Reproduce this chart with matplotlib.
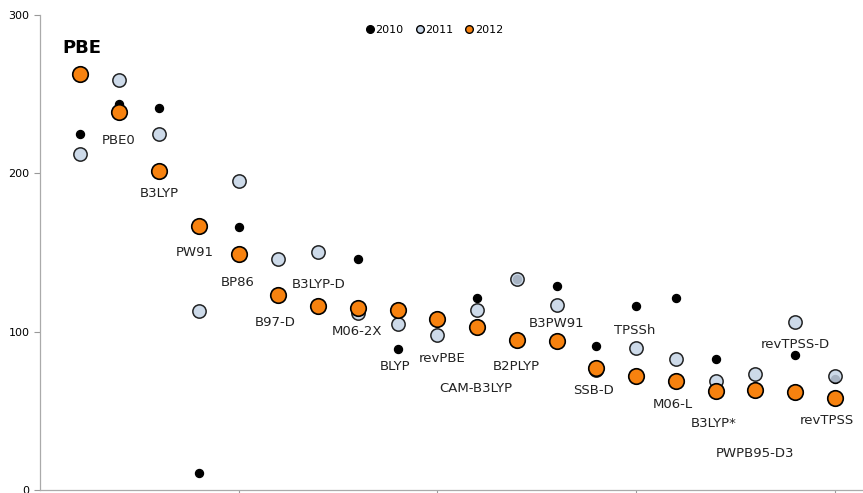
import numpy as np
import matplotlib
matplotlib.use("Agg")
import matplotlib.pyplot as plt
from matplotlib.lines import Line2D

methods = ["PBE", "PBE0", "B3LYP", "PW91", "BP86", "B97-D", "B3LYP-D", "M06-2X",
           "BLYP", "revPBE", "CAM-B3LYP", "B2PLYP", "B3PW91", "SSB-D", "TPSSh",
           "M06-L", "B3LYP*", "PWPB95-D3", "revTPSS-D", "revTPSS"]
nan = np.nan
y2010 = [225, 244, 241, 11, 166, nan, nan, 146, 89, nan, 121, 133, 129, 91, 116,
         121, 83, nan, 85, 70]
y2011 = [212, 259, 225, 113, 195, 146, 150, 112, 105, 98, 114, 133, 117, 76, 90,
         83, 69, 73, 106, 72]
y2012 = [263, 239, 201.5, 167, 149, 123, 116, 115, 114, 108, 103, 95, 94, 77, 72,
         69, 62.5, 63, 62, 58]
yticks = [0, 100, 200, 300]
years = ["2010", "2011", "2012"]

# label placement (x offset from category, y in data units)
label_dx = [0.05, -0.01, -0.01, -0.10, -0.02, -0.09, 0.02, -0.02, -0.07, 0.12,
            -0.03, -0.02, 0.01, -0.08, -0.03, -0.07, -0.06, -0.01, 0.0, -0.20]
label_y = [279, 221, 187, 150, 131, 106, 130, 100, 78, 83, 64, 78, 105, 63, 101,
           54, 42, 23, 92, 44]

W, H = 863, 493
fig = plt.figure(figsize=(W / 100, H / 100), dpi=100)
ax = fig.add_axes([40 / W, 3 / H, (W - 40) / W, (490 - 15) / H])

x = np.arange(1, len(methods) + 1)
ax.scatter(x, y2010, s=33, color="black", zorder=3)
ax.scatter(x, y2011, s=92, facecolor="#C5D4E6", edgecolor="black", linewidth=1.1,
           alpha=0.85, zorder=4)
ax.scatter(x, y2012, s=125, facecolor="#F7820F", edgecolor="black", linewidth=1.2,
           zorder=5)

for i, name in enumerate(methods):
    if name == "PBE":
        ax.text(x[i] + label_dx[i], label_y[i], name, ha="center", va="center",
                fontsize=13, fontweight="bold", color="black")
    else:
        ax.text(x[i] + label_dx[i], label_y[i], name, ha="center", va="center",
                fontsize=9.5, color="#222222")

ax.set_xlim(0, (W - 40) / 39.74)
ax.set_ylim(0, 300)
ax.set_xticks([5, 10, 15, 20])
ax.set_xticklabels([])
ax.set_yticks(yticks)
ax.set_yticklabels([str(v) for v in yticks], fontsize=8)
ax.tick_params(axis="both", direction="out", length=4, color="#999999", width=0.8)
for s in ["top", "right"]:
    ax.spines[s].set_visible(False)
for s in ["left", "bottom"]:
    ax.spines[s].set_color("#AAAAAA")
    ax.spines[s].set_linewidth(0.9)

handles = [
    Line2D([], [], ls="none", marker="o", ms=5.5, color="black"),
    Line2D([], [], ls="none", marker="o", ms=5.5, markerfacecolor="#C5D4E6",
           markeredgecolor="black", markeredgewidth=1.0),
    Line2D([], [], ls="none", marker="o", ms=5.5, markerfacecolor="#F7820F",
           markeredgecolor="black", markeredgewidth=1.0),
]
ax.legend(handles, years, loc="center", bbox_to_anchor=(434 / W, 1 - 30 / H),
          bbox_transform=fig.transFigure, ncol=3, frameon=False, fontsize=8,
          handletextpad=0.05, columnspacing=1.0, handlelength=0.9, borderpad=0)

fig.savefig("out.png", dpi=100)
